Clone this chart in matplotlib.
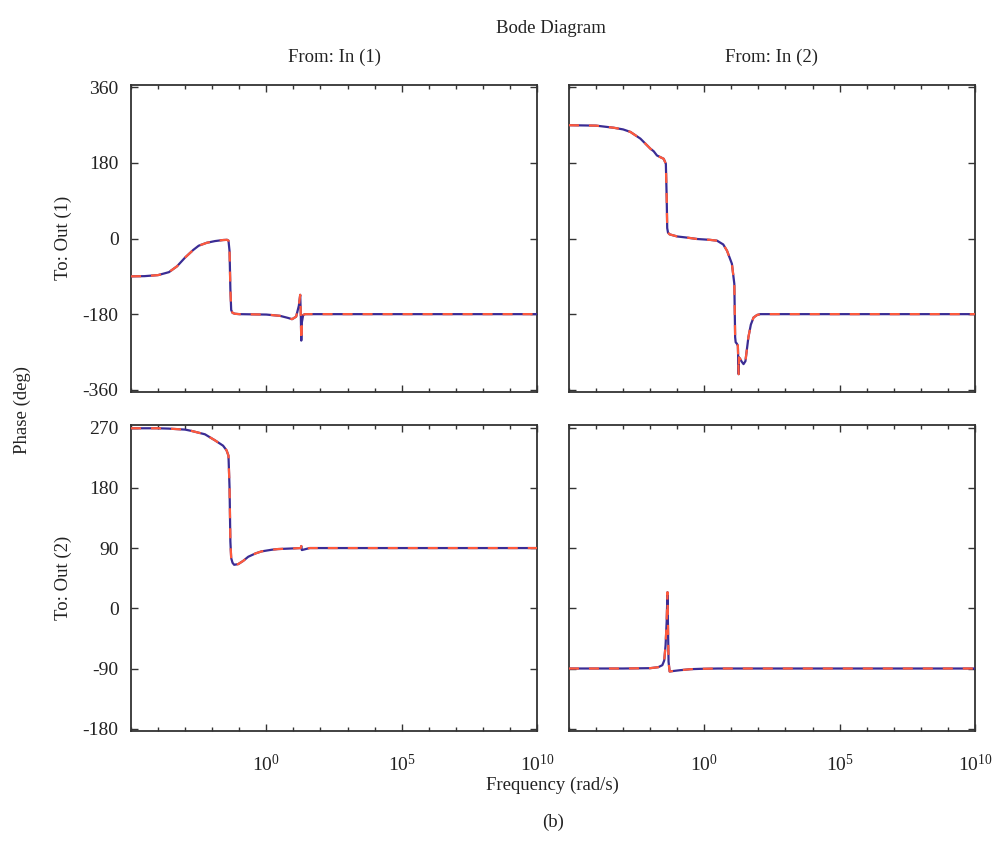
import numpy as np
import matplotlib
matplotlib.use("Agg")
import matplotlib.pyplot as plt
from matplotlib.ticker import LogLocator, FixedLocator, NullFormatter

plt.rcParams["font.family"] = ["Liberation Serif", "DejaVu Serif"]
plt.rcParams["mathtext.fontset"] = "custom"
plt.rcParams["mathtext.rm"] = "Liberation Serif"
plt.rcParams["mathtext.it"] = "Liberation Serif:italic"
plt.rcParams["axes.unicode_minus"] = False

# phase curves, log10(frequency) vs degrees
# Out(1) <- In(1)
lw11 = [-5, -4.5, -4, -3.6, -3.3, -3.0, -2.7, -2.5, -2.2, -1.9, -1.6, -1.45, -1.40, -1.36, -1.33,
        -1.30, -1.25, -1.17, -1.0, 0.0, 0.5, 0.8, 0.95, 1.1, 1.2, 1.25, 1.27, 1.29, 1.31, 1.36,
        1.43, 1.6, 3, 10]
ph11 = [-90, -89.5, -87, -80, -66, -45, -27, -17, -10, -6, -3.5, -3, -5, -30, -120,
        -170, -177, -179, -180, -181, -184, -189, -192, -186, -160, -134, -175, -243, -200, -182,
        -180, -180, -180, -180]
# Out(1) <- In(2)
lw12 = [-5, -4, -3.35, -3.0, -2.73, -2.36, -1.99, -1.87, -1.75, -1.5, -1.42, -1.39, -1.37, -1.34,
        -1.28, -1.0, -0.6, -0.27, 0.2, 0.47, 0.7, 0.84, 1.02, 1.11, 1.14, 1.16, 1.2, 1.24, 1.26,
        1.27, 1.28, 1.32, 1.38, 1.45, 1.52, 1.63, 1.72, 1.82, 1.95, 2.07, 2.5, 10]
ph12 = [270, 269, 264, 260, 254, 238, 214, 208, 198, 190, 178, 100, 25, 14,
        10, 5, 2, -1, -3, -5, -14, -29, -60, -108, -235, -247, -250, -255, -300,
        -323, -283, -286, -293, -299, -292, -235, -205, -188, -182, -180, -180, -180]
# Out(2) <- In(1)
lw21 = [-5, -4, -3.61, -3.0, -2.76, -2.27, -1.90, -1.6, -1.47, -1.40, -1.36, -1.33, -1.30, -1.25,
        -1.19, -1.04, -0.85, -0.67, -0.4, -0.18, 0.2, 0.43, 1.0, 1.27, 1.29, 1.31, 1.6, 10]
ph21 = [269, 269, 268.5, 267, 265, 260, 251, 243, 236, 228, 180, 100, 75, 68,
        65, 66, 71, 77, 82, 85, 87.5, 88.5, 89.5, 90, 93, 87, 90, 90]
# Out(2) <- In(2)
lw22 = [-5, -3, -2.0, -1.7, -1.55, -1.48, -1.43, -1.39, -1.36, -1.34, -1.32, -1.28, -1.2, -0.89,
        -0.5, -0.15, 0.5, 10]
ph22 = [-90, -90, -89.5, -88, -85, -78, -55, -20, 24, -30, -80, -94.5, -94, -92.5,
        -91, -90.5, -90, -90]

yt_top = [-360, -180, 0, 180, 360]
yt_bot = [-180, -90, 0, 90, 180, 270]

BLUE, RED, INK = "#3a2c94", "#ff5a3c", "#333333"

fig = plt.figure(figsize=(9.98, 8.49), dpi=100)
W, H = 0.4068, 0.3610
boxes = [(0.1313, 0.5385), (0.5701, 0.5385), (0.1313, 0.1385), (0.5701, 0.1385)]
curves = [(lw11, ph11), (lw12, ph12), (lw21, ph21), (lw22, ph22)]

for i, ((x0, y0), (lw, ph)) in enumerate(zip(boxes, curves)):
    ax = fig.add_axes([x0, y0, W, H])
    w = 10.0 ** np.array(lw)
    ax.plot(w, ph, color=BLUE, lw=1.6, zorder=3)
    ax.plot(w, ph, color=RED, lw=1.6, ls=(0, (4.5, 4.5)), zorder=4)
    ax.set_xscale("log")
    ax.set_xlim(1e-5, 1e10)
    ax.xaxis.set_major_locator(FixedLocator([1e0, 1e5, 1e10]))
    ax.xaxis.set_minor_locator(LogLocator(base=10, subs=(1.0,), numticks=30))
    ax.xaxis.set_minor_formatter(NullFormatter())
    if i < 2:
        ax.set_ylim(-365, 365)
        ax.set_yticks(yt_top)
        ax.set_xticklabels([])
    else:
        ax.set_ylim(-184, 274)
        ax.set_yticks(yt_bot)
    if i % 2 == 1:
        ax.set_yticklabels([])
    ax.tick_params(which="both", direction="in", top=True, right=True, colors=INK,
                   labelcolor="#222222", labelsize=14, width=1.0)
    ax.tick_params(which="major", length=5)
    ax.tick_params(axis="y", pad=9)
    ax.tick_params(axis="x", pad=16)
    ax.tick_params(which="minor", length=3)
    for s in ax.spines.values():
        s.set_color(INK)
        s.set_linewidth(1.3)

fs = 13.5
fig.text(0.552, 0.967, "Bode Diagram", ha="center", va="center", fontsize=fs, color="#222222")
fig.text(0.3347, 0.933, "From: In (1)", ha="center", va="center", fontsize=fs, color="#222222")
fig.text(0.7735, 0.933, "From: In (2)", ha="center", va="center", fontsize=fs, color="#222222")
fig.text(0.063, 0.72, "To: Out (1)", ha="center", va="center", rotation=90, fontsize=fs, color="#222222")
fig.text(0.063, 0.319, "To: Out (2)", ha="center", va="center", rotation=90, fontsize=fs, color="#222222")
fig.text(0.022, 0.517, "Phase (deg)", ha="center", va="center", rotation=90, fontsize=fs, color="#222222")
fig.text(0.554, 0.0754, "Frequency (rad/s)", ha="center", va="center", fontsize=fs, color="#222222")
fig.text(0.554, 0.0318, "(b)", ha="center", va="center", fontsize=fs, color="#222222")

fig.savefig("out.png", dpi=100, facecolor="white")
